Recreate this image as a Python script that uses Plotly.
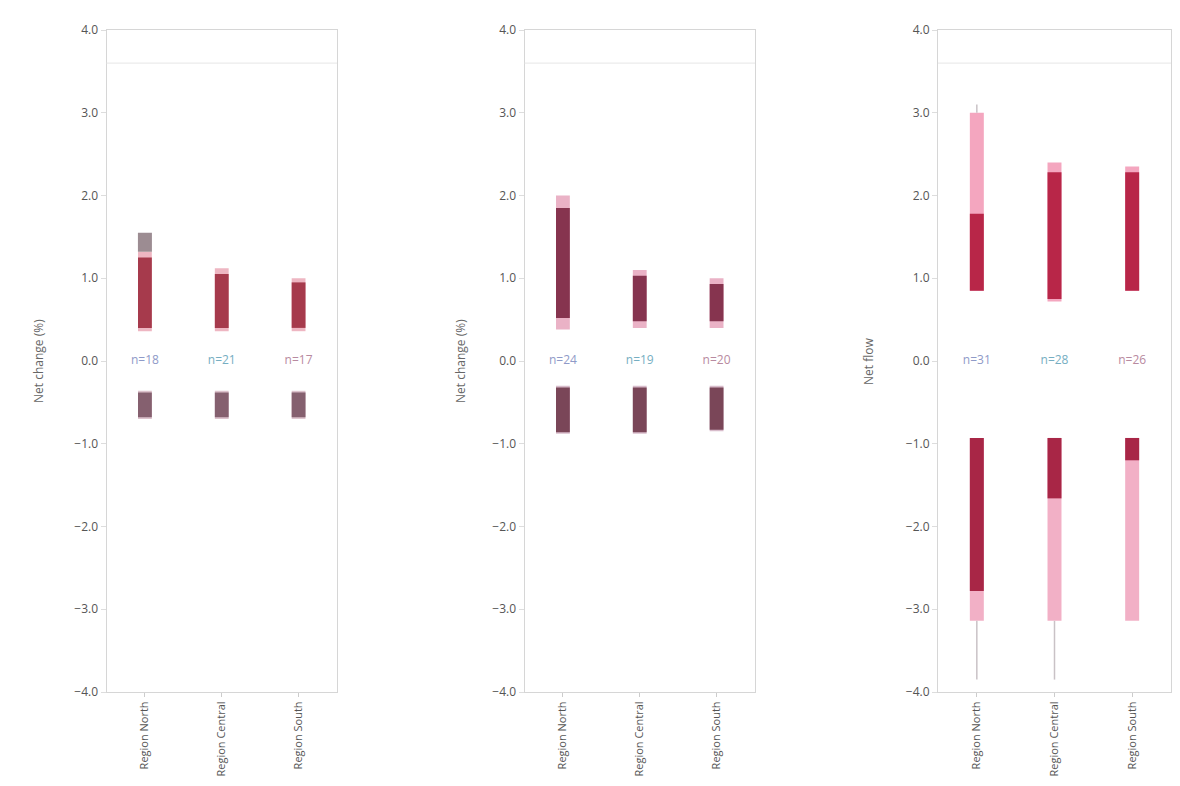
import plotly.graph_objects as go

# ---------------- data ----------------
categories = ["Region North", "Region Central", "Region South"]
y_titles = ["Net change (%)", "Net change (%)", "Net flow"]
y_ticks = [-4, -3, -2, -1, 0, 1, 2, 3, 4]

# upper (positive) ranges: light outer band and dark inner band
up_outer_lo = [[0.36, 0.36, 0.36], [0.38, 0.40, 0.40], [0.85, 0.72, 0.85]]
up_outer_hi = [[1.32, 1.12, 1.00], [2.00, 1.10, 1.00], [3.00, 2.40, 2.35]]
up_inner_lo = [[0.40, 0.40, 0.40], [0.52, 0.48, 0.48], [0.85, 0.75, 0.85]]
up_inner_hi = [[1.25, 1.05, 0.95], [1.85, 1.03, 0.93], [1.78, 2.28, 2.28]]

# lower (negative) ranges
lo_outer_hi = [[-0.36, -0.36, -0.36], [-0.30, -0.30, -0.30], [-0.93, -0.93, -0.93]]
lo_outer_lo = [[-0.70, -0.70, -0.70], [-0.88, -0.88, -0.85], [-3.14, -3.14, -3.14]]
lo_inner_hi = [[-0.38, -0.38, -0.38], [-0.32, -0.32, -0.32], [-0.93, -0.93, -0.93]]
lo_inner_lo = [[-0.68, -0.68, -0.68], [-0.86, -0.86, -0.83], [-2.78, -1.66, -1.20]]

# caps above the upper bands (None = none)
up_cap = [[1.55, None, None], [None, None, None], [3.10, None, None]]
# thin whiskers below the lower bands (None = none)
lo_whisker = [[None, None, None], [None, None, None], [-3.85, -3.85, None]]

zero_labels = [["n=18", "n=21", "n=17"],
               ["n=24", "n=19", "n=20"],
               ["n=31", "n=28", "n=26"]]

# ---------------- styles ----------------
up_outer_col = ["#eeb6c2", "#eab2c6", "#f4a6bf"]
up_inner_col = ["#a63a4c", "#86344f", "#b82648"]
lo_outer_col = ["#dcc2cc", "#d8bccb", "#f2b0c6"]
lo_inner_col = ["#85606f", "#7a4658", "#a82646"]
cap_col = ["#9c8c92", "#9c8c92", "#c9c2c6"]
cap_w = [14, 14, 1.5]
zero_cols = ["#8f9ac8", "#76aec2", "#b88aa0"]

W = 1180.0
doms = [[98.5 / W, 329 / W], [516.5 / W, 747 / W], [930 / W, 1163 / W]]
title_x = [30 / W, 452 / W, 860 / W]

fig = go.Figure()
bar_w = 0.18

for p in range(3):
    xa = "x" if p == 0 else f"x{p+1}"
    ya = "y" if p == 0 else f"y{p+1}"
    fig.add_trace(go.Bar(x=categories,
                         y=[h - l for h, l in zip(up_outer_hi[p], up_outer_lo[p])],
                         base=up_outer_lo[p], width=bar_w, marker_color=up_outer_col[p],
                         marker_line_width=0, xaxis=xa, yaxis=ya, showlegend=False))
    fig.add_trace(go.Bar(x=categories,
                         y=[h - l for h, l in zip(lo_outer_hi[p], lo_outer_lo[p])],
                         base=lo_outer_lo[p], width=bar_w, marker_color=lo_outer_col[p],
                         marker_line_width=0, xaxis=xa, yaxis=ya, showlegend=False))
    fig.add_trace(go.Bar(x=categories,
                         y=[h - l for h, l in zip(up_inner_hi[p], up_inner_lo[p])],
                         base=up_inner_lo[p], width=bar_w, marker_color=up_inner_col[p],
                         marker_line_width=0, xaxis=xa, yaxis=ya, showlegend=False))
    fig.add_trace(go.Bar(x=categories,
                         y=[h - l for h, l in zip(lo_inner_hi[p], lo_inner_lo[p])],
                         base=lo_inner_lo[p], width=bar_w, marker_color=lo_inner_col[p],
                         marker_line_width=0, xaxis=xa, yaxis=ya, showlegend=False))
    cx, cy = [], []
    for i, c in enumerate(categories):
        if up_cap[p][i] is not None:
            cx += [c, c, None]
            cy += [up_outer_hi[p][i], up_cap[p][i], None]
    if cx:
        fig.add_trace(go.Scatter(x=cx, y=cy, mode="lines",
                                 line=dict(color=cap_col[p], width=cap_w[p]),
                                 xaxis=xa, yaxis=ya, showlegend=False, hoverinfo="skip"))
    wx, wy = [], []
    for i, c in enumerate(categories):
        if lo_whisker[p][i] is not None:
            wx += [c, c, None]
            wy += [lo_outer_lo[p][i], lo_whisker[p][i], None]
    if wx:
        fig.add_trace(go.Scatter(x=wx, y=wy, mode="lines",
                                 line=dict(color="#c9c2c6", width=1.5),
                                 xaxis=xa, yaxis=ya, showlegend=False, hoverinfo="skip"))
    fig.add_trace(go.Scatter(x=categories, y=[0, 0, 0], mode="text",
                             text=zero_labels[p],
                             textfont=dict(color=zero_cols, size=12),
                             xaxis=xa, yaxis=ya, showlegend=False, hoverinfo="skip"))

    axis_common = dict(showline=True, mirror=True, linecolor="#d6d6d6", linewidth=1,
                       automargin=False)
    fig.update_layout(**{
        ("xaxis" if p == 0 else f"xaxis{p+1}"): dict(
            domain=doms[p], anchor=ya, type="category", range=[-0.5, 2.5],
            tickangle=-90, tickfont=dict(size=11, color="#555"),
            ticks="outside", ticklen=4, tickcolor="#ccc", **axis_common),
        ("yaxis" if p == 0 else f"yaxis{p+1}"): dict(
            anchor=xa, range=[-4, 4], tickvals=y_ticks, tickformat=".1f",
            showgrid=False, zeroline=False, ticks="outside", ticklen=5, tickcolor="#ddd",
            tickfont=dict(size=12, color="#555"), **axis_common),
    })
    fig.add_annotation(x=title_x[p], y=0.5, xref="paper", yref="paper",
                       xanchor="center", yanchor="middle",
                       text=y_titles[p], textangle=-90, showarrow=False,
                       font=dict(size=12, color="#666"))
    fig.add_shape(type="line", xref=f"{xa} domain", yref=ya, x0=0, x1=1,
                  y0=3.6, y1=3.6, line=dict(color="#e6e6e6", width=1))

fig.update_layout(
    width=1180, height=786, barmode="overlay",
    margin=dict(l=0, r=0, t=22, b=102),
    paper_bgcolor="white", plot_bgcolor="white",
    font=dict(family="Open Sans, Arial, sans-serif"),
)

fig.write_html("out.html")
